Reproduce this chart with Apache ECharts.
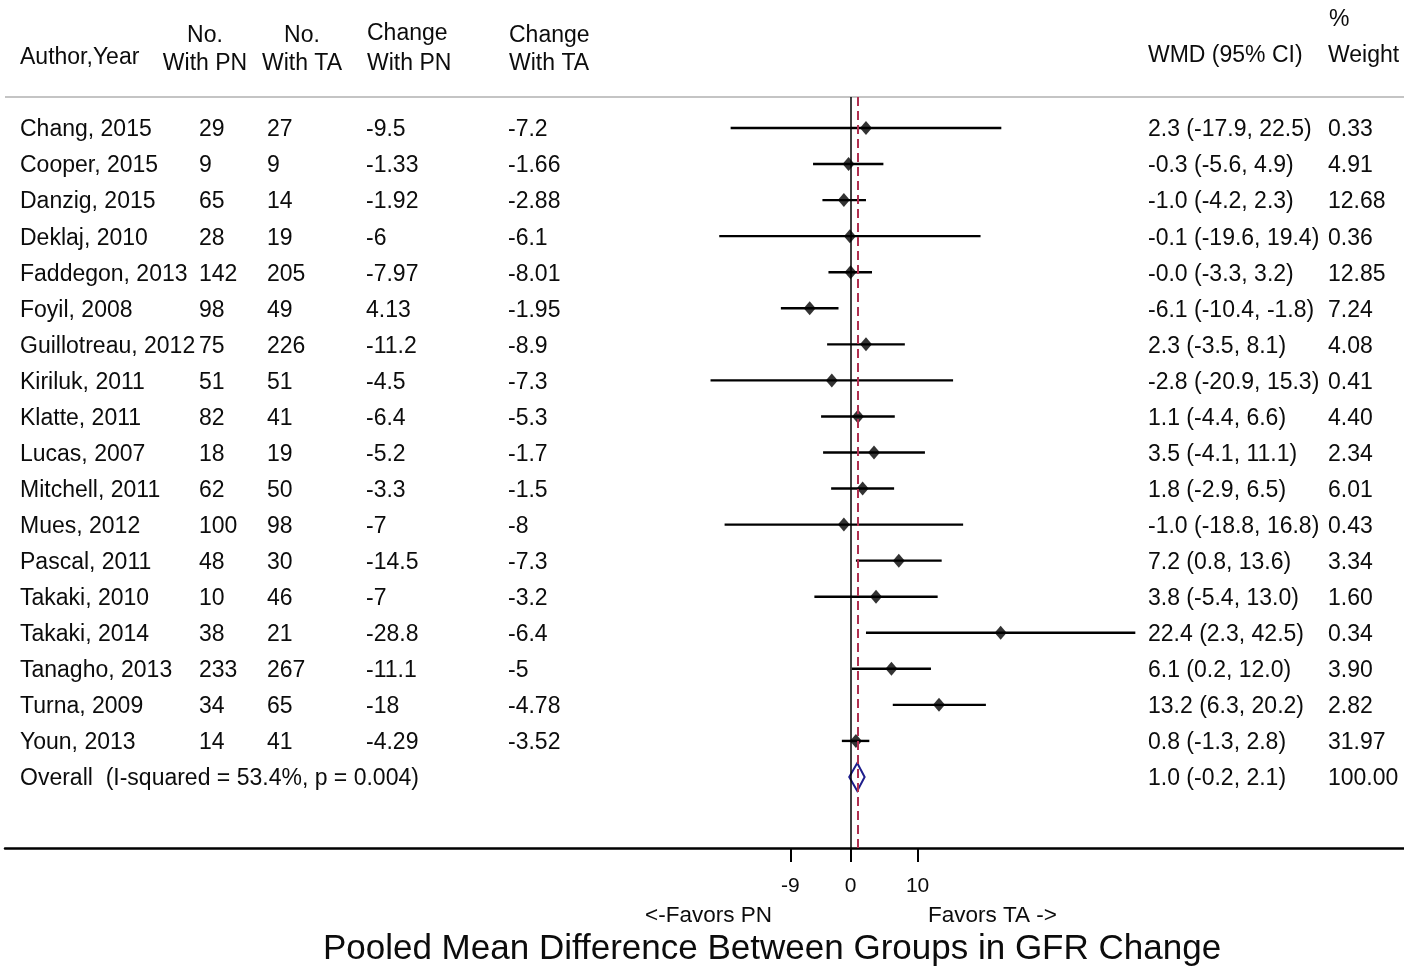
<!DOCTYPE html>
<html>
<head>
    <meta charset="utf-8">
    <title>Forest plot - GFR change</title>
    <script src="https://cdn.jsdelivr.net/npm/echarts@6/dist/echarts.min.js"></script>
    <style>
        html, body { margin: 0; padding: 0; background: #fff; }
        #chart { width: 1404px; height: 969px; }
    </style>
</head>
<body>
<div id="chart"></div>
<script type="text/javascript">
    // study data
    var authors = ['Chang, 2015', 'Cooper, 2015', 'Danzig, 2015', 'Deklaj, 2010', 'Faddegon, 2013', 'Foyil, 2008',
        'Guillotreau, 2012', 'Kiriluk, 2011', 'Klatte, 2011', 'Lucas, 2007', 'Mitchell, 2011', 'Mues, 2012',
        'Pascal, 2011', 'Takaki, 2010', 'Takaki, 2014', 'Tanagho, 2013', 'Turna, 2009', 'Youn, 2013'];
    var nPN = [29, 9, 65, 28, 142, 98, 75, 51, 82, 18, 62, 100, 48, 10, 38, 233, 34, 14];
    var nTA = [27, 9, 14, 19, 205, 49, 226, 51, 41, 19, 50, 98, 30, 46, 21, 267, 65, 41];
    var chgPN = ['-9.5', '-1.33', '-1.92', '-6', '-7.97', '4.13', '-11.2', '-4.5', '-6.4', '-5.2', '-3.3', '-7',
        '-14.5', '-7', '-28.8', '-11.1', '-18', '-4.29'];
    var chgTA = ['-7.2', '-1.66', '-2.88', '-6.1', '-8.01', '-1.95', '-8.9', '-7.3', '-5.3', '-1.7', '-1.5', '-8',
        '-7.3', '-3.2', '-6.4', '-5', '-4.78', '-3.52'];
    var wmd = [2.3, -0.3, -1.0, -0.1, -0.0, -6.1, 2.3, -2.8, 1.1, 3.5, 1.8, -1.0, 7.2, 3.8, 22.4, 6.1, 13.2, 0.8];
    var ciLow = [-17.9, -5.6, -4.2, -19.6, -3.3, -10.4, -3.5, -20.9, -4.4, -4.1, -2.9, -18.8, 0.8, -5.4, 2.3, 0.2, 6.3, -1.3];
    var ciHigh = [22.5, 4.9, 2.3, 19.4, 3.2, -1.8, 8.1, 15.3, 6.6, 11.1, 6.5, 16.8, 13.6, 13.0, 42.5, 12.0, 20.2, 2.8];
    var wmdText = ['2.3 (-17.9, 22.5)', '-0.3 (-5.6, 4.9)', '-1.0 (-4.2, 2.3)', '-0.1 (-19.6, 19.4)', '-0.0 (-3.3, 3.2)',
        '-6.1 (-10.4, -1.8)', '2.3 (-3.5, 8.1)', '-2.8 (-20.9, 15.3)', '1.1 (-4.4, 6.6)', '3.5 (-4.1, 11.1)',
        '1.8 (-2.9, 6.5)', '-1.0 (-18.8, 16.8)', '7.2 (0.8, 13.6)', '3.8 (-5.4, 13.0)', '22.4 (2.3, 42.5)',
        '6.1 (0.2, 12.0)', '13.2 (6.3, 20.2)', '0.8 (-1.3, 2.8)'];
    var weights = ['0.33', '4.91', '12.68', '0.36', '12.85', '7.24', '4.08', '0.41', '4.40', '2.34', '6.01', '0.43',
        '3.34', '1.60', '0.34', '3.90', '2.82', '31.97'];

    // pooled estimate
    var overallLabel = 'Overall  (I-squared = 53.4%, p = 0.004)';
    var overallEst = 1.0, overallLow = -0.2, overallHigh = 2.1;
    var overallText = '1.0 (-0.2, 2.1)';
    var overallWeight = '100.00';

    var xTicks = [-9, 0, 10];

    var FONT = '"Liberation Sans", Arial, sans-serif';
    var INK = '#0c0c0c';
    var colX = [20, 199, 267, 366, 508, 1148, 1328];

    var rows = authors.map(function (a, i) {
        return [a, nPN[i], nTA[i], chgPN[i], chgTA[i], wmdText[i], weights[i]];
    });
    rows.push([overallLabel, '', '', '', '', overallText, overallWeight]);
    var overallRow = authors.length;

    var myChart = echarts.init(document.getElementById('chart'));

    function txt(x, y, s, size, align) {
        return {
            type: 'text', x: x, y: y, silent: true,
            style: {text: s, fill: INK, font: size + 'px ' + FONT, textAlign: align || 'left', textVerticalAlign: 'middle'}
        };
    }

    myChart.setOption({
        backgroundColor: '#fff',
        animation: false,
        grid: {left: 5, right: 0, top: 97, bottom: 121},
        xAxis: {
            type: 'value',
            min: -126.2,
            max: 82.6,
            splitLine: {show: false},
            axisLine: {onZero: false, lineStyle: {color: '#000', width: 2.5}},
            axisTick: {customValues: xTicks, length: 14, lineStyle: {color: '#000', width: 2}},
            axisLabel: {customValues: xTicks, margin: 28, fontSize: 21, color: INK, fontFamily: FONT}
        },
        yAxis: {type: 'value', inverse: true, min: -0.86, max: 19.97, show: false},
        graphic: [
            // header
            txt(20, 58, 'Author,Year', 23),
            txt(205, 36, 'No.', 23, 'center'),
            txt(205, 64, 'With PN', 23, 'center'),
            txt(302, 36, 'No.', 23, 'center'),
            txt(302, 64, 'With TA', 23, 'center'),
            txt(367, 34, 'Change', 23),
            txt(367, 64, 'With PN', 23),
            txt(509, 36, 'Change', 23),
            txt(509, 64, 'With TA', 23),
            txt(1148, 56, 'WMD (95% CI)', 23),
            txt(1329, 20, '%', 23),
            txt(1328, 56, 'Weight', 23),
            {
                type: 'line', silent: true,
                shape: {x1: 5, y1: 97, x2: 1404, y2: 97},
                style: {stroke: '#c4c4c4', lineWidth: 2}
            },
            // bottom texts
            txt(772, 916, '<-Favors PN', 22.5, 'right'),
            txt(928, 916, 'Favors TA ->', 22.5),
            txt(772, 949, 'Pooled Mean Difference Between Groups in GFR Change', 35, 'center')
        ],
        series: [
            {
                // table cells
                type: 'custom',
                silent: true,
                clip: false,
                data: rows.map(function (r, i) { return [0, i]; }),
                renderItem: function (params, api) {
                    var y = api.coord([0, api.value(1)])[1] + 2;
                    var r = rows[params.dataIndex];
                    return {
                        type: 'group',
                        children: r.map(function (s, c) {
                            return txt(colX[c], y, String(s), 23);
                        })
                    };
                },
                z: 5
            },
            {
                // confidence intervals
                type: 'custom',
                silent: true,
                data: authors.map(function (a, i) { return [ciLow[i], ciHigh[i], i]; }),
                renderItem: function (params, api) {
                    var p1 = api.coord([api.value(0), api.value(2)]);
                    var p2 = api.coord([api.value(1), api.value(2)]);
                    return {
                        type: 'line',
                        shape: {x1: p1[0], y1: p1[1], x2: p2[0], y2: p2[1]},
                        style: {stroke: '#000', lineWidth: 2.4}
                    };
                },
                markLine: {
                    silent: true,
                    symbol: 'none',
                    label: {show: false},
                    data: [
                        {xAxis: 0, lineStyle: {color: '#000', width: 1.5, type: 'solid'}},
                        {xAxis: overallEst, lineStyle: {color: '#b03050', width: 2, type: [9, 5]}}
                    ]
                },
                z: 3
            },
            {
                // point estimates
                type: 'scatter',
                silent: true,
                symbol: 'diamond',
                symbolSize: [12, 14],
                itemStyle: {color: '#000'},
                data: authors.map(function (a, i) { return [wmd[i], i]; }),
                z: 4
            },
            {
                // pooled diamond
                type: 'custom',
                silent: true,
                data: [[overallLow, overallEst, overallHigh, overallRow]],
                renderItem: function (params, api) {
                    var row = api.value(3);
                    var l = api.coord([api.value(0), row]);
                    var c = api.coord([api.value(1), row]);
                    var h = api.coord([api.value(2), row]);
                    return {
                        type: 'polygon',
                        shape: {points: [[l[0], l[1]], [c[0], c[1] - 14], [h[0], h[1]], [c[0], c[1] + 14]]},
                        style: {fill: 'none', stroke: '#1e1e8c', lineWidth: 2}
                    };
                },
                z: 4
            }
        ]
    });
</script>
</body>
</html>
